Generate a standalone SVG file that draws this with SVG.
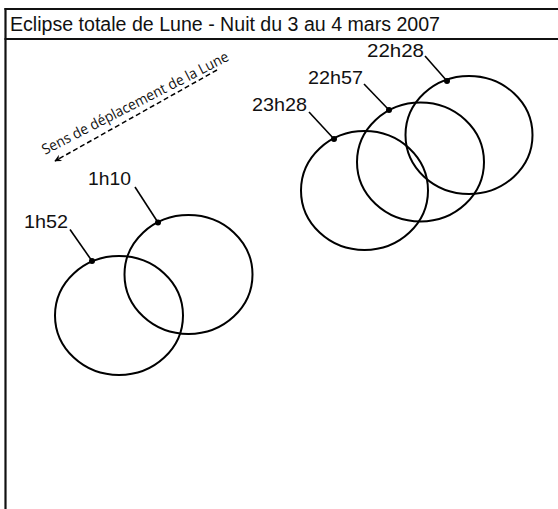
<svg xmlns="http://www.w3.org/2000/svg" width="558" height="509" viewBox="0 0 558 509">
<defs>
<style>
.frame{stroke:#111;stroke-width:2.2;fill:none}
.moon{fill:none;stroke:#000;stroke-width:2}
.lead{stroke:#000;stroke-width:1.6}
.dot{fill:#000}
.lbl{font-family:"Liberation Sans",Arial,sans-serif;font-size:19px;fill:#111}
.title{font-family:"Liberation Sans",Arial,sans-serif;font-size:20px;fill:#111}
.dir{font-family:"Open Sans","DejaVu Sans",sans-serif;font-size:14.5px;fill:#111}
</style>
<marker id="ah" viewBox="0 0 10 10" refX="9" refY="5" markerWidth="8" markerHeight="7" orient="auto" markerUnits="userSpaceOnUse">
<path d="M0,0 L10,5 L0,10 L3,5 z" fill="#000"/>
</marker>
</defs>
<rect width="558" height="509" fill="#fff"/>
<g id="frame">
<line class="frame" x1="5.5" y1="8" x2="5.5" y2="509"/>
<line class="frame" x1="4.5" y1="9" x2="558" y2="9"/>
<line class="frame" x1="4.5" y1="39" x2="558" y2="39"/>
<text class="title" x="10" y="31" textLength="430" lengthAdjust="spacingAndGlyphs">Eclipse totale de Lune - Nuit du 3 au 4 mars 2007</text>
</g>
<g id="connectors">
<line x1="217" y1="70" x2="55" y2="161" stroke="#000" stroke-width="1.5" stroke-dasharray="5,3" marker-end="url(#ah)"/>
</g>
<g id="direction-label">
<text class="dir" transform="translate(45,155) rotate(-27.2)" x="0" y="0" textLength="208" lengthAdjust="spacingAndGlyphs">Sens de déplacement de la Lune</text>
</g>
<g id="moon-2228">
<ellipse class="moon" cx="469" cy="135" rx="63.5" ry="59"/>
<line class="lead" x1="425" y1="56" x2="447" y2="81"/>
<circle class="dot" cx="447" cy="81" r="3"/>
<text class="lbl" x="367" y="57" textLength="57" lengthAdjust="spacingAndGlyphs">22h28</text>
</g>
<g id="moon-2257">
<ellipse class="moon" cx="420.5" cy="162" rx="63.5" ry="59.5"/>
<line class="lead" x1="364" y1="84" x2="389" y2="110"/>
<circle class="dot" cx="389" cy="110" r="3"/>
<text class="lbl" x="308" y="83.5" textLength="55" lengthAdjust="spacingAndGlyphs">22h57</text>
</g>
<g id="moon-2328">
<ellipse class="moon" cx="364.5" cy="190.5" rx="63.5" ry="59.5"/>
<line class="lead" x1="309" y1="112" x2="334" y2="139"/>
<circle class="dot" cx="334" cy="139" r="3"/>
<text class="lbl" x="252" y="111" textLength="55" lengthAdjust="spacingAndGlyphs">23h28</text>
</g>
<g id="moon-0110">
<ellipse class="moon" cx="188.5" cy="274.5" rx="64" ry="59.5"/>
<line class="lead" x1="135" y1="187" x2="158" y2="222.5"/>
<circle class="dot" cx="158" cy="222.5" r="3"/>
<text class="lbl" x="88" y="185" textLength="43" lengthAdjust="spacingAndGlyphs">1h10</text>
</g>
<g id="moon-0152">
<ellipse class="moon" cx="119" cy="315.5" rx="64" ry="59.5"/>
<line class="lead" x1="70" y1="229.5" x2="92" y2="261"/>
<circle class="dot" cx="92" cy="261" r="3"/>
<text class="lbl" x="24" y="228" textLength="44" lengthAdjust="spacingAndGlyphs">1h52</text>
</g>
</svg>
